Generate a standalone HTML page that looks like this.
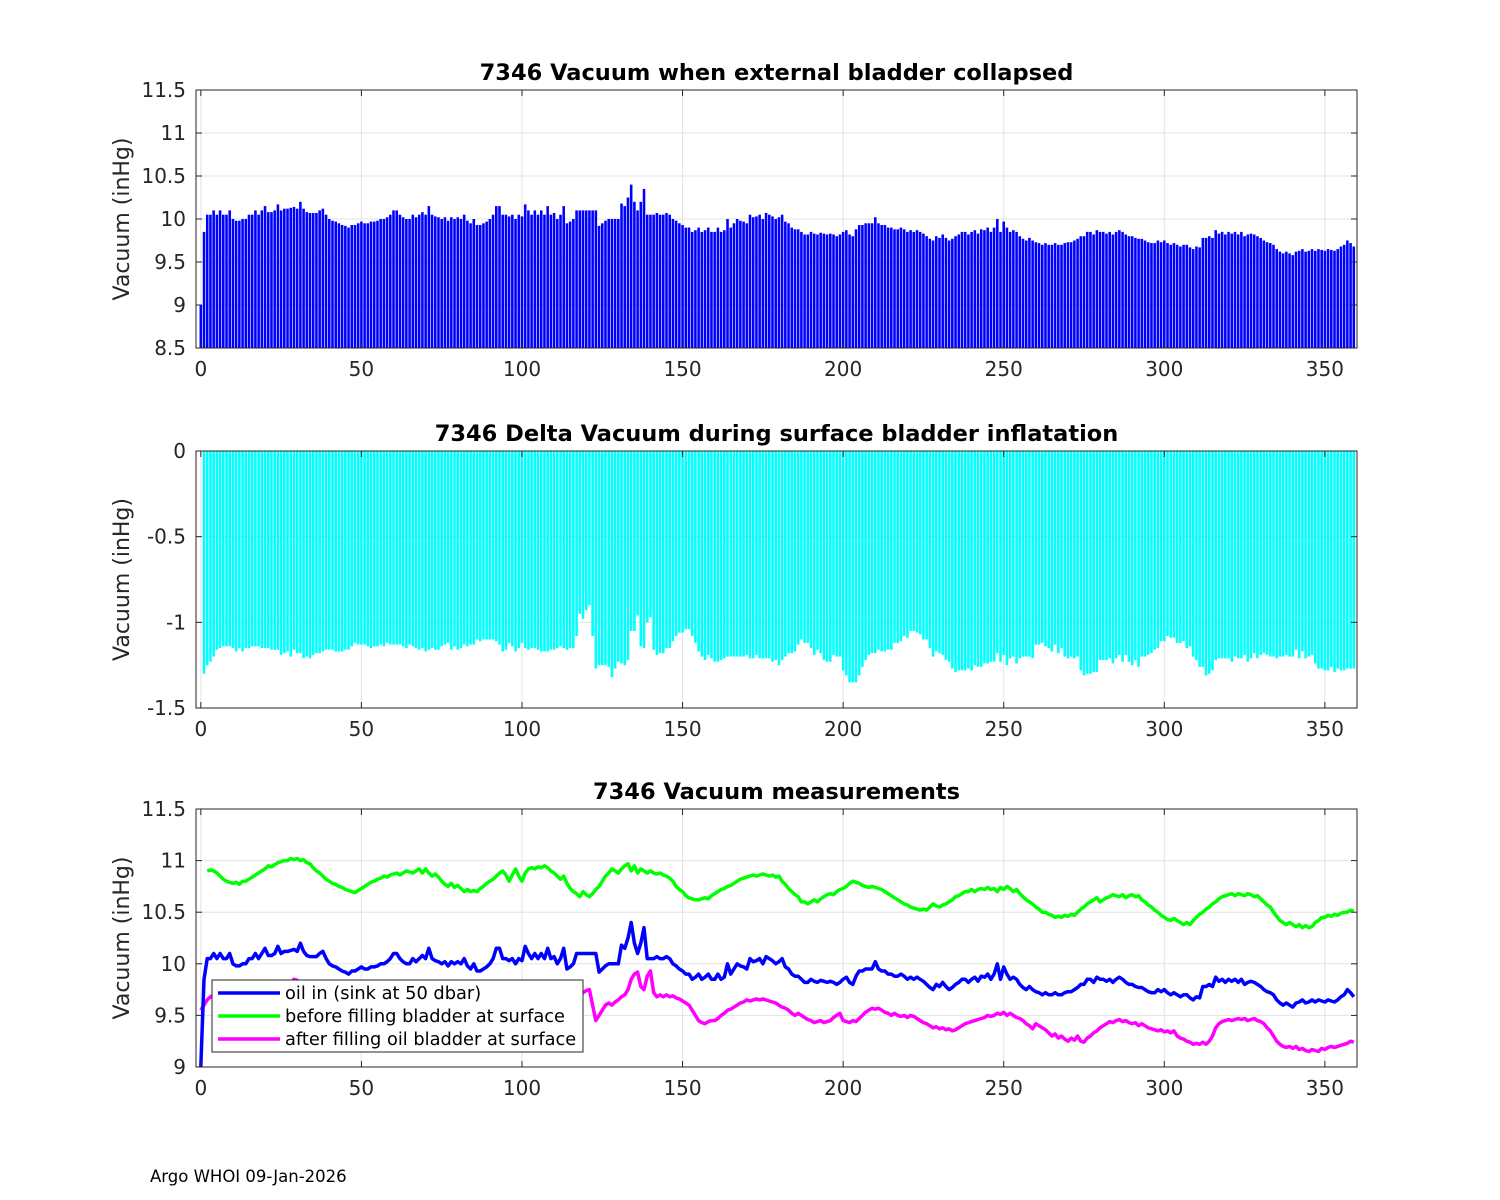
<!DOCTYPE html>
<html><head><meta charset="utf-8">
<style>
html,body{margin:0;padding:0;background:#fff;}
svg{display:block;font-family:"DejaVu Sans","Liberation Sans",sans-serif;}
</style></head>
<body>
<svg id="fig" width="1500" height="1200" viewBox="0 0 1500 1200" xmlns="http://www.w3.org/2000/svg">
<rect width="1500" height="1200" fill="#fff"/>
<text x="150" y="1182" font-size="16.5" fill="#000">Argo WHOI 09-Jan-2026</text>
</svg>
<script>
const xTicks=[0,50,100,150,200,250,300,350];
const ticksP1=[8.5,9,9.5,10,10.5,11,11.5];
const tickLabelsP1=["8.5","9","9.5","10","10.5","11","11.5"];
const ticksP2=[-1.5,-1,-0.5,0];
const tickLabelsP2=["-1.5","-1","-0.5","0"];
const ticksP3=[9,9.5,10,10.5,11,11.5];
const tickLabelsP3=["9","9.5","10","10.5","11","11.5"];
const legendLabels=["oil in (sink at 50 dbar)","before filling bladder at surface","after filling oil bladder at surface"];

const oilIn=[
9.0,9.85,10.05,10.05,10.1,10.05,10.1,10.05,10.05,10.1,
10.0,9.98,9.98,10.0,10.0,10.05,10.05,10.1,10.05,10.1,
10.15,10.08,10.08,10.1,10.17,10.1,10.12,10.12,10.13,10.14,
10.12,10.2,10.12,10.08,10.07,10.07,10.07,10.1,10.12,10.05,
10.0,9.98,9.97,9.95,9.93,9.92,9.9,9.93,9.93,9.95,
9.97,9.95,9.95,9.97,9.97,9.98,10.0,10.0,10.02,10.05,
10.1,10.1,10.05,10.02,10.0,10.0,10.05,10.02,10.05,10.08,
10.05,10.15,10.05,10.03,10.02,10.0,10.02,9.98,10.02,10.0,
10.02,10.0,10.05,9.98,9.95,10.0,9.93,9.93,9.95,9.97,
10.0,10.05,10.15,10.15,10.05,10.05,10.03,10.05,10.0,10.05,
10.03,10.17,10.1,10.05,10.1,10.05,10.1,10.05,10.15,10.05,
10.07,10.0,10.05,10.15,9.95,9.97,10.0,10.1,10.1,10.1,
10.1,10.1,10.1,10.1,9.92,9.95,9.98,10.0,10.0,10.0,
10.0,10.18,10.15,10.25,10.4,10.2,10.1,10.2,10.35,10.05,
10.05,10.05,10.07,10.05,10.05,10.07,10.05,10.0,9.98,9.95,
9.93,9.9,9.9,9.85,9.87,9.9,9.85,9.87,9.9,9.85,
9.85,9.9,9.85,9.87,10.0,9.9,9.95,10.0,9.98,9.97,
9.95,10.05,10.02,10.03,10.05,10.0,10.07,10.05,10.03,10.0,
10.02,10.05,9.97,9.95,9.9,9.88,9.88,9.85,9.82,9.82,
9.85,9.83,9.82,9.84,9.83,9.82,9.83,9.82,9.8,9.82,
9.85,9.87,9.82,9.8,9.88,9.93,9.93,9.95,9.95,9.95,
10.02,9.95,9.93,9.93,9.9,9.9,9.88,9.88,9.9,9.88,
9.85,9.87,9.85,9.87,9.85,9.83,9.8,9.77,9.75,9.8,
9.78,9.82,9.78,9.75,9.77,9.8,9.82,9.85,9.85,9.82,
9.85,9.87,9.83,9.88,9.87,9.9,9.85,9.9,10.0,9.85,
9.97,9.9,9.85,9.87,9.85,9.8,9.77,9.75,9.78,9.75,
9.73,9.72,9.7,9.72,9.7,9.7,9.72,9.7,9.7,9.72,
9.73,9.73,9.75,9.77,9.8,9.8,9.85,9.85,9.82,9.87,
9.85,9.85,9.83,9.85,9.82,9.85,9.87,9.85,9.82,9.8,
9.8,9.78,9.77,9.77,9.75,9.73,9.72,9.72,9.75,9.73,
9.75,9.72,9.7,9.72,9.7,9.68,9.7,9.7,9.67,9.65,
9.68,9.67,9.78,9.78,9.8,9.78,9.87,9.83,9.85,9.82,
9.85,9.83,9.85,9.82,9.85,9.8,9.82,9.83,9.82,9.8,
9.78,9.75,9.73,9.72,9.7,9.65,9.62,9.6,9.62,9.6,
9.58,9.62,9.63,9.65,9.62,9.63,9.65,9.63,9.65,9.64,
9.63,9.65,9.64,9.63,9.65,9.68,9.7,9.75,9.72,9.68];

const beforeFill=[
10.9,10.9,10.9,10.91,10.9,10.88,10.85,10.82,10.8,10.79,
10.78,10.79,10.77,10.8,10.8,10.82,10.84,10.86,10.88,10.9,
10.92,10.95,10.94,10.96,10.98,10.99,11.0,11.0,11.02,11.01,
11.02,11.0,11.01,10.98,10.97,10.93,10.9,10.88,10.85,10.82,
10.8,10.78,10.77,10.75,10.74,10.72,10.71,10.7,10.69,10.71,
10.73,10.75,10.77,10.79,10.8,10.82,10.83,10.85,10.84,10.86,
10.87,10.88,10.86,10.88,10.9,10.89,10.88,10.9,10.92,10.88,
10.92,10.88,10.85,10.87,10.84,10.8,10.77,10.75,10.78,10.74,
10.76,10.73,10.7,10.72,10.7,10.71,10.7,10.73,10.75,10.78,
10.8,10.82,10.85,10.88,10.9,10.86,10.8,10.86,10.92,10.85,
10.8,10.88,10.92,10.93,10.92,10.94,10.93,10.95,10.93,10.9,
10.88,10.85,10.82,10.85,10.78,10.73,10.7,10.68,10.65,10.7,
10.67,10.65,10.68,10.72,10.75,10.8,10.85,10.88,10.92,10.9,
10.88,10.92,10.95,10.97,10.9,10.95,10.88,10.92,10.9,10.88,
10.9,10.88,10.87,10.88,10.86,10.85,10.83,10.8,10.75,10.72,
10.7,10.66,10.64,10.63,10.62,10.62,10.63,10.64,10.63,10.66,
10.68,10.7,10.72,10.73,10.75,10.76,10.78,10.8,10.82,10.83,
10.84,10.85,10.86,10.85,10.86,10.87,10.86,10.85,10.86,10.84,
10.85,10.8,10.77,10.73,10.7,10.67,10.65,10.6,10.6,10.58,
10.6,10.62,10.6,10.63,10.65,10.67,10.68,10.67,10.7,10.72,
10.73,10.75,10.78,10.8,10.79,10.78,10.76,10.75,10.74,10.75,
10.74,10.73,10.72,10.7,10.68,10.66,10.64,10.62,10.6,10.58,
10.57,10.55,10.54,10.53,10.52,10.53,10.52,10.55,10.58,10.56,
10.55,10.57,10.58,10.6,10.62,10.65,10.66,10.68,10.7,10.7,
10.72,10.7,10.72,10.73,10.72,10.74,10.72,10.73,10.7,10.74,
10.72,10.75,10.73,10.7,10.72,10.68,10.65,10.62,10.6,10.58,
10.55,10.53,10.5,10.5,10.48,10.47,10.45,10.46,10.45,10.47,
10.46,10.48,10.47,10.5,10.53,10.55,10.58,10.6,10.62,10.64,
10.6,10.62,10.64,10.65,10.67,10.66,10.65,10.67,10.64,10.66,
10.67,10.65,10.66,10.62,10.6,10.57,10.55,10.52,10.5,10.47,
10.45,10.43,10.42,10.44,10.42,10.4,10.38,10.4,10.38,10.42,
10.45,10.48,10.5,10.53,10.55,10.58,10.6,10.63,10.65,10.66,
10.67,10.68,10.66,10.68,10.67,10.66,10.68,10.67,10.65,10.66,
10.63,10.6,10.57,10.55,10.5,10.46,10.42,10.4,10.38,10.4,
10.38,10.36,10.38,10.35,10.37,10.35,10.36,10.4,10.42,10.45,
10.45,10.47,10.46,10.48,10.47,10.49,10.5,10.5,10.52,10.51];

const afterFill=[
9.55,9.6,9.65,9.68,9.7,9.72,9.7,9.68,9.66,9.65,
9.63,9.62,9.62,9.63,9.65,9.67,9.7,9.72,9.74,9.75,
9.77,9.8,9.78,9.8,9.82,9.8,9.82,9.83,9.82,9.85,
9.84,9.82,9.8,9.78,9.76,9.74,9.72,9.7,9.68,9.66,
9.64,9.62,9.6,9.58,9.57,9.56,9.55,9.56,9.57,9.58,
9.6,9.62,9.63,9.64,9.66,9.68,9.7,9.71,9.72,9.73,
9.74,9.75,9.73,9.74,9.75,9.76,9.74,9.75,9.76,9.73,
9.75,9.72,9.7,9.71,9.68,9.66,9.64,9.63,9.62,9.6,
9.6,9.58,9.57,9.58,9.57,9.58,9.6,9.62,9.65,9.68,
9.7,9.72,9.74,9.75,9.73,9.7,9.68,9.72,9.75,9.7,
9.68,9.73,9.76,9.78,9.77,9.78,9.76,9.78,9.76,9.74,
9.72,9.7,9.68,9.7,9.62,9.58,9.55,9.6,9.7,9.72,
9.74,9.75,9.6,9.45,9.5,9.55,9.6,9.62,9.6,9.63,
9.65,9.68,9.7,9.75,9.85,9.9,9.92,9.78,9.75,9.88,
9.93,9.72,9.68,9.7,9.68,9.7,9.68,9.69,9.67,9.66,
9.64,9.62,9.6,9.55,9.5,9.45,9.43,9.42,9.44,9.45,
9.45,9.47,9.5,9.52,9.55,9.56,9.58,9.6,9.62,9.63,
9.65,9.64,9.65,9.66,9.65,9.66,9.65,9.64,9.63,9.62,
9.6,9.58,9.57,9.55,9.52,9.5,9.52,9.5,9.48,9.46,
9.45,9.43,9.44,9.45,9.43,9.44,9.45,9.48,9.5,9.52,
9.45,9.44,9.43,9.45,9.44,9.47,9.5,9.53,9.55,9.57,
9.56,9.57,9.55,9.53,9.52,9.5,9.52,9.5,9.49,9.5,
9.48,9.5,9.49,9.47,9.45,9.43,9.42,9.4,9.38,9.39,
9.37,9.38,9.36,9.37,9.35,9.36,9.38,9.4,9.42,9.43,
9.44,9.45,9.46,9.47,9.48,9.5,9.49,9.5,9.52,9.51,
9.53,9.5,9.52,9.5,9.48,9.47,9.45,9.42,9.4,9.37,
9.42,9.4,9.38,9.36,9.33,9.3,9.32,9.28,9.3,9.27,
9.25,9.28,9.26,9.3,9.25,9.24,9.28,9.3,9.33,9.35,
9.38,9.4,9.42,9.44,9.43,9.45,9.46,9.44,9.45,9.43,
9.42,9.43,9.4,9.42,9.4,9.38,9.37,9.36,9.35,9.36,
9.34,9.35,9.33,9.35,9.3,9.28,9.27,9.25,9.24,9.22,
9.23,9.22,9.24,9.22,9.25,9.3,9.38,9.42,9.44,9.45,
9.46,9.45,9.46,9.47,9.46,9.47,9.45,9.46,9.47,9.45,
9.44,9.42,9.38,9.35,9.3,9.25,9.22,9.2,9.19,9.2,
9.18,9.2,9.17,9.18,9.16,9.15,9.17,9.16,9.15,9.18,
9.17,9.19,9.2,9.19,9.2,9.21,9.22,9.23,9.25,9.24];

const NS="http://www.w3.org/2000/svg";
const svg=document.getElementById('fig');
const X0=196,X1=1357,XMIN=-1.5,XMAX=360;
function xs(v){return X0+(v-XMIN)/(XMAX-XMIN)*(X1-X0);}
function mk(tag,attrs,parent){const e=document.createElementNS(NS,tag);for(const k in attrs)e.setAttribute(k,attrs[k]);(parent||svg).appendChild(e);return e;}

function panel(id,top,bottom,ymin,ymax,ticks,labels,title){
  const g=mk('g',{});
  
  
  const ys=v=>bottom-(v-ymin)/(ymax-ymin)*(bottom-top);
  mk('rect',{x:X0,y:top,width:X1-X0,height:bottom-top,fill:'#fff'},g);
  const grid=mk('g',{stroke:'#e3e3e3','stroke-width':1},g);
  
  
  xTicks.forEach(t=>mk('line',{x1:xs(t),x2:xs(t),y1:top,y2:bottom},grid));
  ticks.forEach(t=>mk('line',{x1:X0,x2:X1,y1:ys(t),y2:ys(t)},grid));
  const cid='clip-'+id;
  const cp=mk('clipPath',{id:cid},g);
  mk('rect',{x:X0,y:top,width:X1-X0,height:bottom-top},cp);
  const plot=mk('g',{'clip-path':'url(#'+cid+')'},g);
  const axes=mk('g',{stroke:'#262626','stroke-width':1,fill:'none'},g);
  
  
  mk('rect',{x:X0,y:top,width:X1-X0,height:bottom-top},axes);
  const lab=mk('g',{'font-size':20,fill:'#262626'},g);
  xTicks.forEach(t=>{
    mk('line',{x1:xs(t),x2:xs(t),y1:bottom,y2:bottom-6},axes);
    mk('line',{x1:xs(t),x2:xs(t),y1:top,y2:top+6},axes);
    const tx=mk('text',{x:xs(t),y:bottom+28,'text-anchor':'middle'},lab);
    
    
    tx.textContent=t;
  });
  ticks.forEach((t,i)=>{
    mk('line',{x1:X0,x2:X0+6,y1:ys(t),y2:ys(t)},axes);
    mk('line',{x1:X1,x2:X1-6,y1:ys(t),y2:ys(t)},axes);
    const tx=mk('text',{x:X0-10,y:ys(t)+7,'text-anchor':'end'},lab);
    
    
    tx.textContent=labels[i];
  });
  const yl=mk('text',{x:0,y:0,'font-size':22,fill:'#262626','text-anchor':'middle',transform:'translate(129,'+((top+bottom)/2)+') rotate(-90)'},g);
  
  
  yl.textContent='Vacuum (inHg)';
  const tt=mk('text',{x:(X0+X1)/2,y:top-10,'font-size':22.5,'font-weight':'bold',fill:'#000','text-anchor':'middle'},g);
  
  
  tt.textContent=title;
  return {plot,ys,g};
}

const p1=panel('collapsed-vacuum',90,348,8.5,11.5,ticksP1,tickLabelsP1,'7346 Vacuum when external bladder collapsed');
const bw=(xs(1)-xs(0))*0.8;
oilIn.forEach((v,i)=>{
  const y=p1.ys(v),b=p1.ys(8.5);
  const r=mk('rect',{x:xs(i)-bw/2,y:Math.min(y,b),width:bw,height:Math.abs(b-y),fill:'#0000ff'},p1.plot);
  
  
});

const p2=panel('delta-vacuum',451,708,-1.5,0,ticksP2,tickLabelsP2,'7346 Delta Vacuum during surface bladder inflatation');
afterFill.forEach((v,i)=>{
  if(i<1) return;
  const d=v-beforeFill[i];
  const y=p2.ys(d),b=p2.ys(0);
  const r=mk('rect',{x:xs(i)-bw/2,y:Math.min(y,b),width:bw,height:Math.abs(b-y),fill:'#00ffff'},p2.plot);
  
  
});

const p3=panel('vacuum-measurements',809,1067,9,11.5,ticksP3,tickLabelsP3,'7346 Vacuum measurements');
function line(arr,color,name,start){
  const pts=arr.map((v,i)=>i>=start?xs(i).toFixed(1)+','+p3.ys(v).toFixed(1):null).filter(Boolean).join(' ');
  const pl=mk('polyline',{points:pts,fill:'none',stroke:color,'stroke-width':3.5,'stroke-linejoin':'round'},p3.plot);
  
  
}
line(beforeFill,'#00ff00','before-filling-line',2);
line(afterFill,'#ff00ff','after-filling-line',0);
line(oilIn,'#0000ff','oil-in-line',0);

const lg=mk('g',{});


mk('rect',{x:212,y:980,width:371,height:72,fill:'#fff',stroke:'#262626','stroke-width':1},lg);
const lcols=['#0000ff','#00ff00','#ff00ff'];
legendLabels.forEach((t,i)=>{
  const y=993+i*23;
  const e=mk('g',{},lg);
  
  
  mk('line',{x1:218,x2:280,y1:y,y2:y,stroke:lcols[i],'stroke-width':3.5},e);
  const tx=mk('text',{x:285,y:y+6,'font-size':17.8,fill:'#000'},e);
  tx.textContent=t;
});
</script>
</body></html>
